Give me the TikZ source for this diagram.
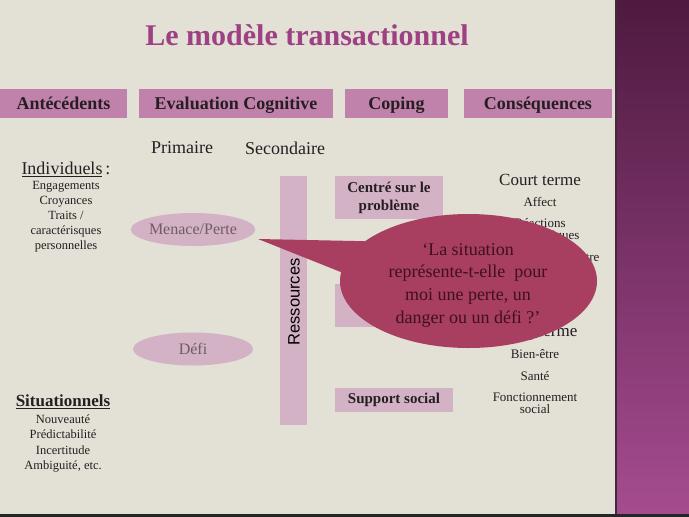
\documentclass[tikz,border=0pt]{standalone}
\usepackage{fontspec}
\setmainfont{Liberation Serif}
\newfontfamily\ressfont{Liberation Sans}
\usetikzlibrary{shapes.geometric}

\definecolor{pagebg}{RGB}{227,224,214}
\definecolor{titlecol}{RGB}{158,64,132}
\definecolor{headpink}{RGB}{192,130,170}
\definecolor{lightpink}{RGB}{212,178,198}
\definecolor{bubblecol}{RGB}{168,62,96}
\definecolor{bubbletext}{RGB}{62,16,32}
\definecolor{paneltop}{RGB}{78,26,64}
\definecolor{panelbot}{RGB}{166,76,144}
\definecolor{panelline}{RGB}{70,40,62}
\definecolor{inktext}{RGB}{38,30,34}
\definecolor{greytext}{RGB}{110,92,104}

\tikzset{
  titletext/.style={font=\fontsize{30}{34}\selectfont\bfseries, text=titlecol},
  headbox/.style={fill=headpink, inner sep=0pt, minimum height=29pt,
    text height=14pt, text depth=2pt,
    font=\fontsize{18}{20}\selectfont\bfseries, text=inktext},
  subhead/.style={font=\fontsize{18}{20}\selectfont, text=inktext},
  listtext/.style={align=center, font=\fontsize{12.5}{15}\selectfont, text=inktext},
  copebox/.style={fill=lightpink, inner sep=0pt, align=center,
    font=\fontsize{15}{18}\selectfont\bfseries, text=inktext},
  appraisal/.style={ellipse, fill=lightpink, inner sep=0pt, minimum width=120pt,
    minimum height=33pt, font=\fontsize{16}{18}\selectfont, text=greytext},
  outcome/.style={align=center, font=\fontsize{13}{12}\selectfont, text=inktext},
  callout/.style={ellipse, fill=bubblecol, inner sep=0pt, minimum width=257pt,
    minimum height=134pt},
  callouttext/.style={align=center, font=\fontsize{18}{22.7}\selectfont,
    text=bubbletext}
}

\begin{document}
\begin{tikzpicture}[x=1pt,y=-1pt]

% Slide background
\fill[pagebg] (0,0) rectangle (689,517);
\useasboundingbox (0,0) rectangle (689,517);

% Purple band on the right
\shade[top color=paneltop, bottom color=panelbot] (615,0) rectangle (689,517);
\draw[panelline, line width=2pt] (616,0) -- (616,517);
\fill[black!85] (0,514) rectangle (689,517);

% Title
\node[titletext] (title) at (307,35) {Le modèle transactionnel};

% Column headers
\node[headbox, minimum width=127pt] (antec) at (63.5,103.5) {Antécédents};
\node[headbox, minimum width=194pt] (evalcog) at (236,103.5) {Evaluation Cognitive};
\node[headbox, minimum width=103pt] (coping) at (396.5,103.5) {Coping};
\node[headbox, minimum width=148pt] (conseq) at (538,103.5) {Conséquences};

% Antecedents
\node[subhead] (indiv) at (66,169) {\underline{Individuels}\,:};
\node[listtext] (indivlist) at (66,217)
  {Engagements\\Croyances\\Traits /\\caractérisques\\personnelles};
\node[font=\fontsize{17}{20}\selectfont\bfseries, text=inktext] (situ) at (63,402)
  {\underline{Situationnels}};
\node[listtext, font=\fontsize{12.5}{15.5}\selectfont] (situlist) at (63,443.5)
  {Nouveauté\\Prédictabilité\\Incertitude\\Ambiguité, etc.};

% Cognitive appraisal
\node[subhead] (prim) at (182,148) {Primaire};
\node[subhead] (second) at (285,148) {Secondaire};
\node[appraisal] (menace) at (193,229.5) {Menace/Perte};
\node[appraisal] (defi) at (193,349) {Défi};
\node[fill=lightpink, rotate=90, inner sep=0pt, minimum width=249pt,
  minimum height=27pt, font=\ressfont\fontsize{16.5}{20}\selectfont, text=black]
  (ress) at (293.5,300.5) {};
\node[rotate=90, inner sep=0pt, font=\ressfont\fontsize{16.5}{20}\selectfont,
  text=black] (resstxt) at (294,302) {Ressources};

% Coping
\node[copebox, minimum width=108pt, minimum height=43pt] (probleme) at (389,197.5)
  {Centré sur le\\problème};
\node[copebox, minimum width=108pt, minimum height=43pt] (emotion) at (389,305.5) {};
\node[copebox, minimum width=118pt, minimum height=24pt] (support) at (394,400)
  {Support social};

% Consequences
\node[subhead, font=\fontsize{17}{20}\selectfont] (court) at (540,180) {Court terme};
\node[outcome] (affect) at (540,202) {Affect};
\node[outcome] (reactions) at (540,230) {Réactions\\physiologiques};
\node[outcome] (qualite) at (540,258) {Qualité de la rencontre};
\node[subhead, font=\fontsize{17}{20}\selectfont] (long) at (538,333) {Long terme};
\node[outcome] (bienetre) at (535,354) {Bien-être};
\node[outcome] (sante) at (535,376) {Santé};
\node[outcome] (fonction) at (535,403) {Fonctionnement\\social};

% Speech bubble
\coordinate (tip) at (258,239);
\node[callout] (bubble) at (468.5,281) {};
\fill[bubblecol] (tip) -- (bubble.159) -- (bubble.176) -- cycle;
\node[callouttext] (bubbletxt) at (468,285)
  {‘La situation\\représente-t-elle\ \ pour\\moi une perte, un\\danger ou un défi ?’};

\end{tikzpicture}
\end{document}
